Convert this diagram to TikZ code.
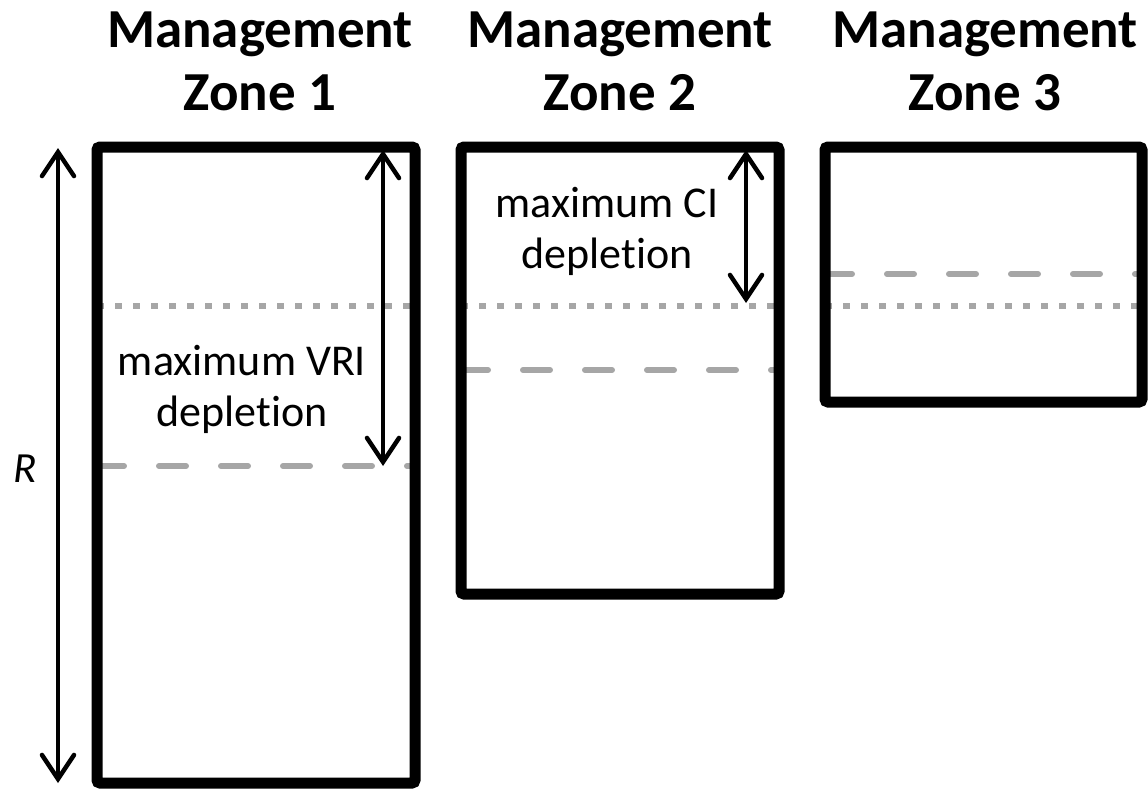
\documentclass[tikz,border=0pt]{standalone}
\usepackage{fontspec}
\setmainfont{Carlito}[Ligatures=NoCommon]
\usetikzlibrary{arrows.meta, positioning, backgrounds}

\definecolor{lvlgray}{HTML}{A6A6A6}

\tikzset{
  zone/.style={draw, line width=11pt, rounded corners=3pt, inner sep=0pt,
    outer sep=0pt, anchor=north west},
  dotline/.style={lvlgray, line width=6pt, dash pattern=on 7pt off 11pt},
  dashline/.style={lvlgray, line width=6pt, line cap=round,
    dash pattern=on 27pt off 35pt},
  span/.style={line width=4.5pt, line cap=round,
    {Straight Barb[length=24pt, width=32pt, line cap=round]}-{Straight Barb[length=24pt, width=32pt, line cap=round]}},
  title/.style={font=\bfseries\fontsize{55}{63}\selectfont, align=center, anchor=base},
  lbl/.style={font=\fontsize{44}{51}\selectfont, align=center, anchor=base}
}

\begin{document}
\begin{tikzpicture}[x=1pt, y=-1pt]
  \useasboundingbox (0,0) rectangle (1148,790);

  % the three zones
  \node[zone, minimum width=318pt, minimum height=636pt] (z1) at (97,147) {};
  \node[zone, minimum width=318pt, minimum height=447pt] (z2) at (461,147) {};
  \node[zone, minimum width=317pt, minimum height=255pt] (z3) at (825,147) {};

  % titles (base = last line)
  \node[title] (t1) at (260,110) {Management\\Zone 1};
  \node[title] (t2) at (620,110) {Management\\Zone 2};
  \node[title] (t3) at (985,110) {Management\\Zone 3};

  % levels
  \begin{scope}[on background layer]
    \draw[dotline] (97,306) -- (415,306);
    \draw[dotline] (461,306) -- (779,306);
    \draw[dotline] (825,306) -- (1142,306);
    \draw[dashline] (97,466) -- (415,466);
    \draw[dashline] (461,370) -- (779,370);
    \draw[dashline] (825,274) -- (1142,274);
  \end{scope}

  % depletion arrows
  \coordinate (rtop) at (58,148);
  \coordinate (rbot) at (58,783);
  \coordinate (vtop) at (383,150);
  \coordinate (vbot) at (383,466);
  \coordinate (ctop) at (746,150);
  \coordinate (cbot) at (746,303);
  \draw[span] (rtop) -- (rbot);
  \draw[span] (vtop) -- (vbot);
  \draw[span] (ctop) -- (cbot);

  \node[font=\itshape\fontsize{43}{51}\selectfont] (r) at (25,469) {R};
  \node[lbl] (vri) at (242,426) {maximum VRI\\depletion};
  \node[lbl] (ci) at (607,268) {maximum CI\\depletion};
\end{tikzpicture}
\end{document}
